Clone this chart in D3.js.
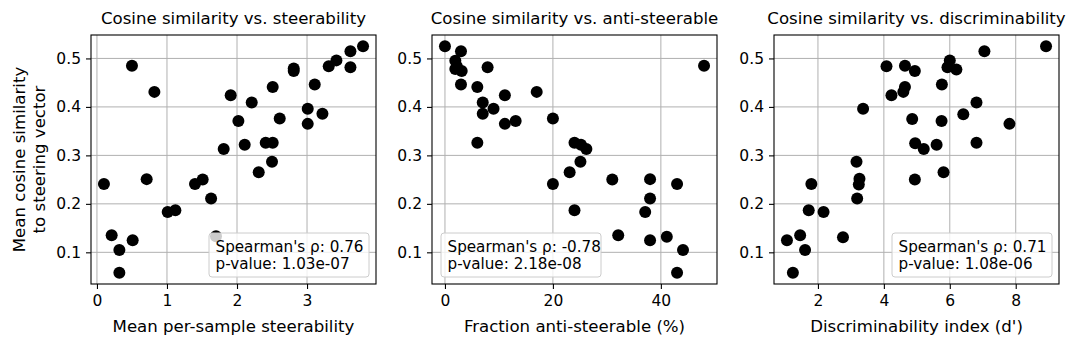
<!DOCTYPE html>
<html>
<head>
<meta charset="utf-8">
<script src="https://cdn.jsdelivr.net/npm/d3@7"></script>
<style>
  body { margin: 0; background: #fff; }
  text { font-family: "DejaVu Sans", sans-serif; fill: #000; }
</style>
</head>
<body>
<div id="chart"></div>
<script>
// cosine similarity shared by the three panels (y values, read per panel)
const steerX = [0.10, 0.50, 0.82, 0.21, 0.32, 0.51, 0.32, 0.71, 1.01, 1.12, 1.40, 1.51, 1.63, 1.70,
  1.81, 1.91, 2.02, 2.11, 2.21, 2.31, 2.41, 2.51, 2.50, 2.51, 2.61, 2.81, 2.81, 3.11, 3.01, 3.01,
  3.22, 3.31, 3.42, 3.62, 3.62, 3.80];
const steerY = [0.241, 0.485, 0.431, 0.135, 0.105, 0.125, 0.058, 0.251, 0.183, 0.187, 0.241, 0.250,
  0.211, 0.133, 0.313, 0.424, 0.371, 0.322, 0.409, 0.265, 0.326, 0.326, 0.287, 0.441, 0.376, 0.479,
  0.474, 0.446, 0.396, 0.365, 0.386, 0.484, 0.496, 0.515, 0.482, 0.525];

const antiX = [0, 2.97, 1.92, 1.92, 3.1, 7.9, 2.97, 6.0, 11.1, 17.0, 7.0, 9.0, 7.0, 11.1, 13.1, 20.0,
  6.0, 24.0, 25.2, 26.2, 25.1, 23.1, 20.0, 31.0, 38.0, 43.0, 38.0, 24.0, 37.1, 32.1, 38.0, 41.1,
  44.1, 43.0, 48.0, 2.2];
const antiY = [0.525, 0.515, 0.495, 0.478, 0.474, 0.482, 0.446, 0.441, 0.424, 0.431, 0.409, 0.396,
  0.386, 0.365, 0.371, 0.376, 0.326, 0.326, 0.322, 0.313, 0.287, 0.265, 0.241, 0.250, 0.251, 0.241,
  0.211, 0.187, 0.183, 0.135, 0.125, 0.132, 0.105, 0.058, 0.485, 0.484];

const discX = [8.92, 7.05, 6.0, 5.93, 6.20, 4.08, 4.64, 4.94, 4.64, 4.59, 4.23, 5.76, 6.81, 6.41,
  3.37, 4.86, 5.75, 7.81, 4.95, 5.21, 5.60, 6.81, 3.17, 5.81, 4.94, 3.26, 3.24, 3.19, 1.80, 1.72,
  2.17, 2.76, 1.46, 1.06, 1.61, 1.24];
const discY = [0.525, 0.515, 0.496, 0.482, 0.477, 0.484, 0.485, 0.474, 0.441, 0.431, 0.424, 0.446,
  0.409, 0.385, 0.396, 0.375, 0.371, 0.365, 0.325, 0.313, 0.322, 0.326, 0.287, 0.265, 0.250, 0.252,
  0.240, 0.211, 0.241, 0.187, 0.183, 0.131, 0.135, 0.125, 0.105, 0.058];

const titles = ["Cosine similarity vs. steerability", "Cosine similarity vs. anti-steerable",
  "Cosine similarity vs. discriminability"];
const xLabels = ["Mean per-sample steerability", "Fraction anti-steerable (%)", "Discriminability index (d')"];
const xTicks = [[0, 1, 2, 3], [0, 20, 40], [2, 4, 6, 8]];
const yTicks = [0.1, 0.2, 0.3, 0.4, 0.5];
const stats = [["Spearman's ρ: 0.76", "p-value: 1.03e-07"],
  ["Spearman's ρ: -0.78", "p-value: 2.18e-08"],
  ["Spearman's ρ: 0.71", "p-value: 1.08e-06"]];

const panels = [
  { xs: steerX, ys: steerY, legend: "right" },
  { xs: antiX, ys: antiY, legend: "left" },
  { xs: discX, ys: discY, legend: "right" },
];

const W = 1079, H = 348;
const lefts = [91, 432, 774];
const pw = 285, plotTop = 35, ph = 249;

const svg = d3.select("#chart").append("svg")
  .attr("width", W).attr("height", H);

// matplotlib style 5% margins
function padded(vals) {
  const [a, b] = d3.extent(vals);
  const m = (b - a) * 0.05;
  return [a - m, b + m];
}

const allY = steerY.concat(antiY, discY);
const y = d3.scaleLinear().domain(padded(allY)).range([ph, 0]);

panels.forEach((p, i) => {
  const g = svg.append("g").attr("transform", `translate(${lefts[i]},${plotTop})`);
  const x = d3.scaleLinear().domain(padded(p.xs)).range([0, pw]);

  // grid
  g.append("g").selectAll("line").data(xTicks[i]).join("line")
    .attr("x1", (d) => x(d)).attr("x2", (d) => x(d))
    .attr("y1", 0).attr("y2", ph)
    .attr("stroke", "#b0b0b0").attr("stroke-width", 1);
  g.append("g").selectAll("line").data(yTicks).join("line")
    .attr("y1", (d) => y(d)).attr("y2", (d) => y(d))
    .attr("x1", 0).attr("x2", pw)
    .attr("stroke", "#b0b0b0").attr("stroke-width", 1);

  // points
  g.append("g").selectAll("circle").data(p.xs.map((v, k) => [v, p.ys[k]])).join("circle")
    .attr("cx", (d) => x(d[0])).attr("cy", (d) => y(d[1]))
    .attr("r", 6).attr("fill", "#000");

  // axes
  const xa = g.append("g").attr("transform", `translate(0,${ph})`)
    .call(d3.axisBottom(x).tickValues(xTicks[i]).tickSize(5).tickPadding(6).tickFormat(d3.format("d")));
  const ya = g.append("g")
    .call(d3.axisLeft(y).tickValues(yTicks).tickSize(5).tickPadding(5).tickFormat(d3.format(".1f")));
  [xa, ya].forEach((a) => {
    a.select(".domain").remove();
    a.selectAll("text").attr("font-size", 15.5).attr("font-family", "DejaVu Sans");
    a.selectAll("line").attr("stroke", "#000").attr("stroke-width", 1.1);
  });

  g.append("rect").attr("width", pw).attr("height", ph)
    .attr("fill", "none").attr("stroke", "#000").attr("stroke-width", 1.1);

  // legend
  const lw = 160, lh = 44;
  const lx = p.legend === "right" ? pw - lw - 7 : 9;
  const ly = ph - lh - 7;
  const lg = g.append("g").attr("transform", `translate(${lx},${ly})`);
  lg.append("rect").attr("width", lw).attr("height", lh).attr("rx", 3)
    .attr("fill", "#fff").attr("fill-opacity", 0.8)
    .attr("stroke", "#cccccc").attr("stroke-width", 1);
  lg.selectAll("text").data(stats[i]).join("text")
    .attr("x", 6.5).attr("y", (d, k) => 19 + k * 16.5)
    .attr("font-size", 15.2).text((d) => d);

  // title and x label
  g.append("text").attr("x", pw / 2).attr("y", -11).attr("text-anchor", "middle")
    .attr("font-size", 16.6).text(titles[i]);
  g.append("text").attr("x", pw / 2).attr("y", ph + 48).attr("text-anchor", "middle")
    .attr("font-size", 16.6).text(xLabels[i]);
});

// y label, two lines
const yl = svg.append("text")
  .attr("transform", `translate(25,${plotTop + ph / 2}) rotate(-90)`)
  .attr("text-anchor", "middle").attr("font-size", 16.6);
yl.append("tspan").attr("x", 0).attr("dy", 0).text("Mean cosine similarity");
yl.append("tspan").attr("x", 0).attr("dy", 19.5).text("to steering vector");
</script>
</body>
</html>
